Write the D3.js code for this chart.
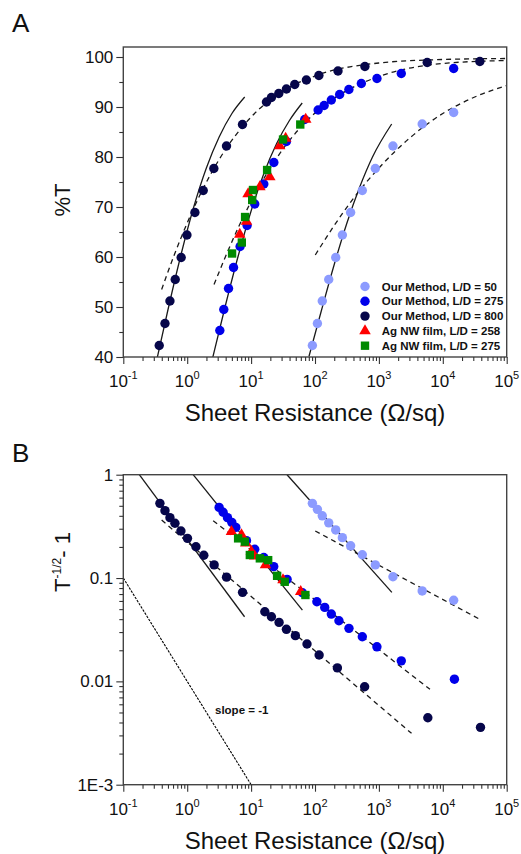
<!DOCTYPE html>
<html>
<head>
<meta charset="utf-8">
<script src="https://d3js.org/d3.v7.min.js"></script>
<style>
body { margin: 0; background: #fff; }
text { font-family: "Liberation Sans", Arial, sans-serif; fill: #111; }
</style>
</head>
<body>
<svg id="chart" width="521" height="854"></svg>
<script>
// ---------- data ----------
// panel A : [sheet resistance (ohm/sq), %T]
var ld50_A = [[91,42.3],[109,46.7],[130,51.2],[164,55.5],[211,59.9],[268,64.4],[361,68.9],[550,73.3],[879,77.7],[1660,82.2],[4760,86.6],[14800,88.9]];
var ld275_A = [[3.24,45.3],[3.74,49.5],[4.43,53.7],[5.31,57.9],[6.73,62.1],[8.66,66.3],[11.4,70.6],[15.8,74.6],[22.7,78.9],[35.7,83.1],[69,87.5],[112,89.4],[139,90.3],[180,91.4],[243,92.5],[339,93.5],[531,94.7],[933,95.7],[2240,96.7],[14800,97.7]];
var ld800_A = [[0.365,42.3],[0.449,46.7],[0.537,51.2],[0.65,55.5],[0.805,59.9],[0.99,64.4],[1.32,68.9],[1.78,73.3],[2.61,77.7],[4.12,82.2],[7.33,86.5],[17.4,91.0],[20.8,91.9],[27.1,92.7],[35.7,93.6],[48.2,94.5],[73.3,95.4],[115,96.3],[229,97.2],[604,98.1],[5700,98.9],[38000,99.1]];
var agnw258_A = [[6.65,64.5],[8.47,67.1],[8.98,72.6],[13.7,74.0],[19.6,76.0],[28,82.2],[34.7,83.7],[71.6,87.5]];
var agnw275_A = [[5.04,60.7],[7.16,62.9],[8.05,68.0],[10.4,71.4],[10.7,73.4],[17.8,77.4],[31.6,83.5],[58.8,86.5]];

// panel B : [sheet resistance, T^-1/2 - 1]
var ld50_B = [[91,0.528],[109,0.462],[130,0.40],[164,0.342],[211,0.292],[268,0.246],[361,0.205],[550,0.168],[879,0.134],[1660,0.103],[4760,0.075],[14800,0.061]];
var ld275_B = [[3.16,0.483],[3.65,0.433],[4.27,0.384],[4.99,0.346],[5.77,0.309],[8.47,0.23],[11.4,0.19],[15.8,0.158],[22.6,0.129],[36.6,0.097],[63.5,0.0721],[107,0.059],[142,0.052],[180,0.0448],[237,0.0386],[340,0.0326],[550,0.027],[931,0.0216],[2240,0.0158],[15200,0.0105]];
var ld800_B = [[0.374,0.528],[0.449,0.449],[0.537,0.384],[0.643,0.339],[0.798,0.285],[1.01,0.242],[1.37,0.201],[1.82,0.166],[2.64,0.134],[4.13,0.102],[7.35,0.0727],[16.4,0.0472],[20.8,0.0422],[27.4,0.0372],[35.7,0.0319],[49.3,0.0277],[75,0.023],[116,0.018],[224,0.0135],[598,0.00887],[5830,0.00445],[38900,0.00359]];
var agnw258_B = [[4.93,0.281],[7.08,0.261],[8.26,0.217],[10.1,0.18],[11.4,0.163],[16.8,0.134],[31.6,0.0957],[59.8,0.0738]];
var agnw275_B = [[6.26,0.242],[7.98,0.225],[9.55,0.167],[13.7,0.155],[18.5,0.149],[25.5,0.105],[33.6,0.092],[70.8,0.0685]];

// fit curves in panel A (solid = percolative, dashed = bulk)
var solid800_A = [[0.339,39.8],[0.501,49.5],[0.794,60.3],[1.259,69.9],[1.995,77.8],[3.162,84.0],[5.01,88.7],[7.94,92.0]];
var solid275_A = [[2.51,39.9],[3.98,50.4],[6.31,60.3],[10,69.2],[15.85,76.7],[25.1,82.7],[39.8,87.3],[63.1,90.8]];
var solid50_A = [[80.4,40.1],[126,49.3],[200,58.5],[316,66.8],[501,74.0],[794,80.0],[1585,86.6]];
var dash800_A = [[0.398,53.5],[0.631,60.5],[1,66.8],[1.778,73.7],[3.162,79.5],[10,88.0],[31.6,93.2],[100,96.2],[1000,98.8],[10000,99.5],[100000,99.7]];
var dash275_A = [[2.63,54.5],[3.98,60.1],[6.31,65.9],[10,71.1],[17.8,76.8],[31.6,81.6],[100,88.8],[316,93.3],[1000,96.1],[10000,98.7],[100000,99.3]];
var dash50_A = [[101,60.4],[200,66.3],[398,71.7],[1000,77.8],[3162,84.0],[10000,88.7],[31623,92.0],[100000,94.3]];

// fit lines in panel B (straight on log-log, end points)
var solid800_B = [[0.178,1],[7.9,0.0422]];
var solid275_B = [[1.24,1],[63.5,0.049]];
var solid50_B = [[36.5,1],[1596,0.0727]];
var dash800_B = [[0.398,0.364],[3240,0.00314]];
var dash275_B = [[2.55,0.359],[6300,0.00837]];
var dash50_B = [[101,0.285],[39800,0.0392]];
var slope1_B = [[0.1,0.1],[10,0.001]];

// ticks and labels
var xTickExps = [-1,0,1,2,3,4,5];
var yTicksA = [40,50,60,70,80,90,100];
var yTicksB = [1,0.1,0.01,0.001];
var yTickLabelsB = ["1","0.1","0.01","1E-3"];
var legendLabels = ["Our Method, L/D = 50","Our Method, L/D = 275","Our Method, L/D = 800","Ag NW film, L/D = 258","Ag NW film, L/D = 275"];

var cLight = "#8c9bff", cBlue = "#0000ea", cNavy = "#06064a", cRed = "#ff0000", cGreen = "#008a00";

var svg = d3.select("#chart");

var x = d3.scaleLog().domain([0.1,1e5]).range([123.3,506.7]);
var yA = d3.scaleLinear().domain([40,102]).range([357,47]);
var yB = d3.scaleLog().domain([0.001,1]).range([784.7,474.7]);

// minor tick positions for log axes
var xMinor = [];
for (var d = -1; d < 5; d++) {
	for (var m = 2; m < 10; m++) xMinor.push(m*Math.pow(10,d));
}
var yMinorB = [];
for (var d = -3; d < 0; d++) {
	for (var m = 2; m < 10; m++) yMinorB.push(m*Math.pow(10,d));
}

function styleAxis(g){
	g.select(".domain").remove();
	g.selectAll("line").attr("stroke","#333").attr("stroke-width",1.1);
}

function xAxis(yPos){
	svg.append("g").attr("transform","translate(0,"+yPos+")")
		.call(d3.axisBottom(x).tickValues(xMinor).tickSize(4).tickFormat(""))
		.call(styleAxis);
	svg.append("g").attr("transform","translate(0,"+yPos+")")
		.call(d3.axisBottom(x).tickValues(xTickExps.map(function(e){return Math.pow(10,e);})).tickSize(7).tickFormat(""))
		.call(styleAxis);
	// labels 10^n with superscript
	xTickExps.forEach(function(e){
		var t = svg.append("text")
			.attr("x", x(Math.pow(10,e)))
			.attr("y", yPos+30)
			.attr("text-anchor","middle")
			.style("font-size","17px");
		t.append("tspan").text("10");
		t.append("tspan").attr("dy",-8).style("font-size","11px").text(e);
	});
}

function frame(top,bottom){
	svg.append("rect")
		.attr("x",x.range()[0]).attr("y",top)
		.attr("width",x.range()[1]-x.range()[0]).attr("height",bottom-top)
		.attr("fill","none").attr("stroke","#444").attr("stroke-width",1.4);
}

function clip(id,top,bottom){
	svg.append("clipPath").attr("id",id).append("rect")
		.attr("x",x.range()[0]).attr("y",top)
		.attr("width",x.range()[1]-x.range()[0]).attr("height",bottom-top);
}

function drawLine(data, yScale, dashed, clipId, smooth){
	var line = d3.line().x(function(p){return x(p[0]);}).y(function(p){return yScale(p[1]);});
	if (smooth) line.curve(d3.curveMonotoneX);
	svg.append("path").datum(data)
		.attr("d",line)
		.attr("fill","none")
		.attr("stroke","#1a1a1a")
		.attr("stroke-width",1.3)
		.attr("stroke-dasharray",dashed ? "5,4" : null)
		.attr("clip-path","url(#"+clipId+")");
}

function circles(data, yScale, color){
	svg.append("g").selectAll("circle").data(data).enter().append("circle")
		.attr("cx",function(p){return x(p[0]);})
		.attr("cy",function(p){return yScale(p[1]);})
		.attr("r",4.7)
		.attr("fill",color);
}

function symbols(data, yScale, type, size, color){
	svg.append("g").selectAll("path").data(data).enter().append("path")
		.attr("d",d3.symbol().type(type).size(size))
		.attr("transform",function(p){return "translate("+x(p[0])+","+yScale(p[1])+")";})
		.attr("fill",color);
}

// ================= panel A =================
clip("clipA",47,357);
drawLine(solid800_A,yA,false,"clipA",true);
drawLine(solid275_A,yA,false,"clipA",true);
drawLine(solid50_A,yA,false,"clipA",true);
drawLine(dash800_A,yA,true,"clipA",true);
drawLine(dash275_A,yA,true,"clipA",true);
drawLine(dash50_A,yA,true,"clipA",true);

circles(ld50_A,yA,cLight);
circles(ld275_A,yA,cBlue);
circles(ld800_A,yA,cNavy);
symbols(agnw258_A,yA,d3.symbolTriangle,58,cRed);
symbols(agnw275_A,yA,d3.symbolSquare,70,cGreen);

frame(47,357);

// y axis A
svg.append("g").attr("transform","translate(123.3,0)")
	.call(d3.axisLeft(yA).tickValues([45,55,65,75,85,95]).tickSize(4).tickFormat(""))
	.call(styleAxis);
svg.append("g").attr("transform","translate(123.3,0)")
	.call(d3.axisLeft(yA).tickValues(yTicksA).tickSize(7).tickPadding(3))
	.call(styleAxis)
	.selectAll("text").style("font-size","17px").attr("fill","#111");

xAxis(357);

// legend
var legY0 = 286.5, legStep = 14.8;
var legColors = [cLight,cBlue,cNavy,cRed,cGreen];
legendLabels.forEach(function(lab,i){
	var ly = legY0 + i*legStep;
	if (i < 3) {
		svg.append("circle").attr("cx",365).attr("cy",ly).attr("r",4.7).attr("fill",legColors[i]);
	} else {
		svg.append("path")
			.attr("d",d3.symbol().type(i==3 ? d3.symbolTriangle : d3.symbolSquare).size(i==3 ? 58 : 70))
			.attr("transform","translate(365,"+ly+")")
			.attr("fill",legColors[i]);
	}
	svg.append("text").attr("x",381.7).attr("y",ly).attr("dy","0.36em")
		.style("font-size","11.5px").style("font-weight","bold").text(lab);
});

// titles A
svg.append("text").attr("x",12).attr("y",32).style("font-size","26px").text("A");
svg.append("text").attr("x",315).attr("y",421).attr("text-anchor","middle")
	.style("font-size","24px").text("Sheet Resistance (\u03A9/sq)");
svg.append("text").attr("transform","translate(70,200) rotate(-90)")
	.attr("text-anchor","middle").style("font-size","22px").text("%T");

// ================= panel B =================
clip("clipB",474.7,784.7);
drawLine(solid800_B,yB,false,"clipB",false);
drawLine(solid275_B,yB,false,"clipB",false);
drawLine(solid50_B,yB,false,"clipB",false);
drawLine(dash800_B,yB,true,"clipB",false);
drawLine(dash275_B,yB,true,"clipB",false);
drawLine(dash50_B,yB,true,"clipB",false);
// slope = -1 guide
svg.append("path").datum(slope1_B)
	.attr("d",d3.line().x(function(p){return x(p[0]);}).y(function(p){return yB(p[1]);}))
	.attr("fill","none").attr("stroke","#000").attr("stroke-width",1.1)
	.attr("stroke-dasharray","2.5,1.2");
svg.append("text").attr("x",215).attr("y",714).style("font-size","11.5px")
	.style("font-weight","bold").text("slope = -1");

circles(ld50_B,yB,cLight);
circles(ld275_B,yB,cBlue);
circles(ld800_B,yB,cNavy);
symbols(agnw258_B,yB,d3.symbolTriangle,58,cRed);
symbols(agnw275_B,yB,d3.symbolSquare,70,cGreen);

frame(474.7,784.7);

// y axis B
svg.append("g").attr("transform","translate(123.3,0)")
	.call(d3.axisLeft(yB).tickValues(yMinorB).tickSize(4).tickFormat(""))
	.call(styleAxis);
svg.append("g").attr("transform","translate(123.3,0)")
	.call(d3.axisLeft(yB).tickValues(yTicksB).tickSize(7).tickPadding(3)
		.tickFormat(function(v,i){return yTickLabelsB[i];}))
	.call(styleAxis)
	.selectAll("text").style("font-size","17px").attr("fill","#111");

xAxis(784.7);

svg.append("text").attr("x",12).attr("y",462).style("font-size","26px").text("B");
svg.append("text").attr("x",315).attr("y",849).attr("text-anchor","middle")
	.style("font-size","24px").text("Sheet Resistance (\u03A9/sq)");
var tB = svg.append("text").attr("transform","translate(70,562) rotate(-90)")
	.attr("text-anchor","middle").style("font-size","22px");
tB.append("tspan").text("T");
tB.append("tspan").attr("dy",-9).style("font-size","12px").text("-1/2");
tB.append("tspan").attr("dy",9).text("- 1");
</script>
</body>
</html>
